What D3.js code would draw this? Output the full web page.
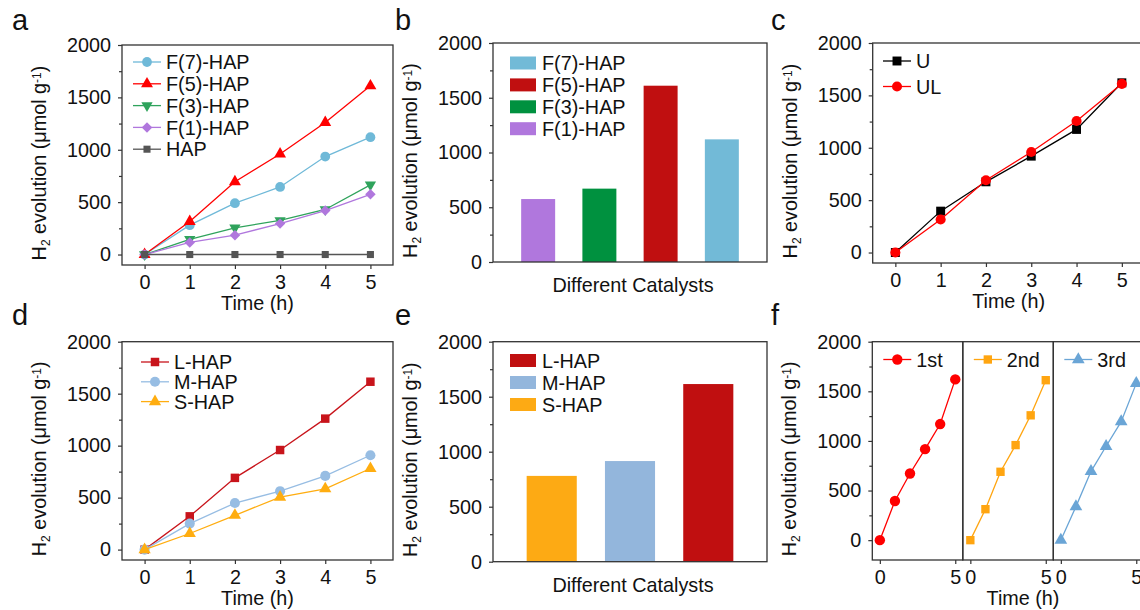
<!DOCTYPE html>
<html>
<head>
<meta charset="utf-8">
<script src="https://cdn.jsdelivr.net/npm/d3@7"></script>
<style>
  body { margin: 0; background: #fff; }
  text { font-family: "Liberation Sans", Arial, sans-serif; fill: #111; }
</style>
</head>
<body>
<svg id="fig" width="1140" height="610"></svg>
<script>
// ---- data ----
const hours = [0, 1, 2, 3, 4, 5];
const yMajorTicks = [0, 500, 1000, 1500, 2000];
const yMinorTicks = [250, 750, 1250, 1750];
const xTicksShort = [0, 5];

// panel a
const namesA = ["F(7)-HAP", "F(5)-HAP", "F(3)-HAP", "F(1)-HAP", "HAP"];
const f7Hap = [0, 280, 490, 645, 935, 1120];
const f5Hap = [0, 315, 695, 960, 1260, 1610];
const f3Hap = [0, 145, 255, 325, 430, 665];
const f1Hap = [0, 115, 185, 295, 420, 575];
const hapOnly = [0, 0, 0, 0, 0, 0];

// panel b
const catalystsB = ["F(1)-HAP", "F(3)-HAP", "F(5)-HAP", "F(7)-HAP"];
const totalsB = [575, 670, 1610, 1120];
const legendB = ["F(7)-HAP", "F(5)-HAP", "F(3)-HAP", "F(1)-HAP"];

// panel c
const namesC = ["U", "UL"];
const uRun = [0, 395, 675, 920, 1175, 1620];
const ulRun = [0, 315, 690, 960, 1255, 1610];

// panel d
const namesD = ["L-HAP", "M-HAP", "S-HAP"];
const lHap = [0, 320, 690, 958, 1260, 1615];
const mHap = [0, 250, 448, 562, 709, 908];
const sHap = [0, 155, 330, 505, 585, 780];

// panel e
const catalystsE = ["S-HAP", "M-HAP", "L-HAP"];
const totalsE = [780, 915, 1615];
const legendE = ["L-HAP", "M-HAP", "S-HAP"];

// panel f
const namesF = ["1st", "2nd", "3rd"];
const run1 = [0, 395, 672, 917, 1170, 1620];
const run2 = [0, 312, 689, 958, 1258, 1612];
const run3 = [0, 338, 694, 946, 1194, 1580];

const colors = {
  "F(7)-HAP": "#6fb9d8", "F(5)-HAP": "#ff0000", "F(3)-HAP": "#2fa35c",
  "F(1)-HAP": "#b077dd", "HAP": "#555555",
  "U": "#000000", "UL": "#ff0000",
  "L-HAP": "#c8141b", "M-HAP": "#97bde3", "S-HAP": "#ffad10",
  "1st": "#ff0000", "2nd": "#ffa510", "3rd": "#6aa5d6"
};
const barColors = {
  "F(7)-HAP": "#72bad7", "F(5)-HAP": "#c00f10", "F(3)-HAP": "#00913f",
  "F(1)-HAP": "#b077dd",
  "L-HAP": "#c00f10", "M-HAP": "#93b6dc", "S-HAP": "#fdaa14"
};

const svg = d3.select("#fig");
const FS = 19.8;
const frameColor = "#333";
const fmt = d3.format("d");

function panelLetter(ch, x, y) {
  svg.append("text").attr("x", x).attr("y", y)
    .style("font-size", "29px").text(ch);
}

function yTitle(x, cy) {
  const t = svg.append("text")
    .attr("transform", `translate(${x},${cy}) rotate(-90)`)
    .attr("text-anchor", "middle")
    .style("font-size", FS + "px");
  t.append("tspan").text("H");
  t.append("tspan").attr("baseline-shift", "-30%").style("font-size", "12px").text("2");
  t.append("tspan").text(" evolution (μmol g");
  t.append("tspan").attr("baseline-shift", "45%").style("font-size", "12px").text("-1");
  t.append("tspan").text(")");
}

function yAxes(x, y) {
  const major = svg.append("g").attr("transform", `translate(${x.range()[0]},0)`)
    .call(d3.axisLeft(y).tickValues(yMajorTicks).tickFormat(fmt).tickSize(4).tickPadding(7).tickSizeOuter(0));
  const minor = svg.append("g").attr("transform", `translate(${x.range()[0]},0)`)
    .call(d3.axisLeft(y).tickValues(yMinorTicks).tickSize(3).tickFormat("").tickSizeOuter(0));
  [major, minor].forEach(g => {
    g.select(".domain").remove();
    g.selectAll("line").attr("stroke", frameColor).attr("stroke-width", 1.2);
    g.selectAll("text").style("font-size", FS + "px").attr("fill", "#111");
  });
}

function frame(x0, x1, yTop, yBot) {
  svg.append("rect").attr("x", x0).attr("y", yTop)
    .attr("width", x1 - x0).attr("height", yBot - yTop)
    .attr("fill", "none").attr("stroke", frameColor).attr("stroke-width", 1.3);
}

function symbolFor(kind, size) {
  const t = { circle: d3.symbolCircle, triangle: d3.symbolTriangle, square: d3.symbolSquare,
              diamond: d3.symbolDiamond2, tdown: d3.symbolTriangle }[kind];
  return d3.symbol().type(t).size(size)();
}

function drawSeries(x, y, s) {
  const line = d3.line().x((d, i) => x(hours[i])).y(d => y(d));
  svg.append("path").datum(s.values).attr("d", line)
    .attr("fill", "none").attr("stroke", colors[s.name]).attr("stroke-width", 1.3);
  svg.append("g").selectAll("path").data(s.values).join("path")
    .attr("d", symbolFor(s.symbol, s.size))
    .attr("transform", (d, i) => `translate(${x(hours[i])},${y(d)})${s.symbol === "tdown" ? " rotate(180)" : ""}`)
    .attr("fill", colors[s.name]);
}

function lineLegend(series, lx, ly, dy) {
  series.forEach((s, i) => {
    const yy = ly + i * dy;
    svg.append("line").attr("x1", lx).attr("x2", lx + 28).attr("y1", yy).attr("y2", yy)
      .attr("stroke", colors[s.name]).attr("stroke-width", 1.3);
    svg.append("path").attr("d", symbolFor(s.symbol, s.size))
      .attr("transform", `translate(${lx + 14},${yy})${s.symbol === "tdown" ? " rotate(180)" : ""}`)
      .attr("fill", colors[s.name]);
    svg.append("text").attr("x", lx + 33).attr("y", yy).attr("dy", "0.36em")
      .style("font-size", FS + "px").text(s.name);
  });
}

function xAxisBottom(x, yBot, ticks) {
  const g = svg.append("g").attr("transform", `translate(0,${yBot})`)
    .call(d3.axisBottom(x).tickValues(ticks).tickFormat(fmt).tickSize(4).tickPadding(6).tickSizeOuter(0));
  g.select(".domain").remove();
  g.selectAll("line").attr("stroke", frameColor).attr("stroke-width", 1.2);
  g.selectAll("text").style("font-size", FS + "px").attr("fill", "#111");
}

function linePanel(cfg) {
  const x = d3.scaleLinear().domain([-0.5, 5.5]).range([cfg.x0, cfg.x1]);
  const y = d3.scaleLinear().domain(cfg.yDomain).range([cfg.yBot, cfg.yTop]);
  cfg.series.forEach(s => drawSeries(x, y, s));
  frame(cfg.x0, cfg.x1, cfg.yTop, cfg.yBot);
  yAxes(x, y);
  xAxisBottom(x, cfg.yBot, hours);
  lineLegend(cfg.series, cfg.lx, cfg.ly, cfg.ldy);
  svg.append("text").attr("x", (cfg.x0 + cfg.x1) / 2).attr("y", cfg.yBot + 45)
    .attr("text-anchor", "middle").style("font-size", FS + "px").text("Time (h)");
  yTitle(cfg.x0 - 76, (cfg.yTop + cfg.yBot) / 2 + 8);
}

function barPanel(cfg) {
  const x = d3.scaleBand().domain(cfg.cats).range([cfg.x0, cfg.x1])
    .paddingInner(cfg.pi).paddingOuter(cfg.po);
  const y = d3.scaleLinear().domain([0, 2000]).range([cfg.yBot, cfg.yTop]);
  svg.append("g").selectAll("rect").data(cfg.values).join("rect")
    .attr("x", (d, i) => x(cfg.cats[i])).attr("width", x.bandwidth())
    .attr("y", d => y(d)).attr("height", d => y(0) - y(d))
    .attr("fill", (d, i) => barColors[cfg.cats[i]]);
  frame(cfg.x0, cfg.x1, cfg.yTop, cfg.yBot);
  yAxes(x.copy().range([cfg.x0, cfg.x1]), y);
  cfg.legend.forEach((name, i) => {
    const yy = cfg.ly + i * cfg.ldy;
    svg.append("rect").attr("x", cfg.x0 + 17).attr("y", yy - 6.5).attr("width", 26).attr("height", 13)
      .attr("fill", barColors[name]);
    svg.append("text").attr("x", cfg.x0 + 49).attr("y", yy).attr("dy", "0.36em")
      .style("font-size", FS + "px").text(name);
  });
  svg.append("text").attr("x", (cfg.x0 + cfg.x1) / 2 + 3).attr("y", cfg.yBot + 30)
    .attr("text-anchor", "middle").style("font-size", FS + "px").text("Different Catalysts");
  yTitle(cfg.x0 - 76, (cfg.yTop + cfg.yBot) / 2 + 8);
}

// ---- panel a ----
linePanel({
  x0: 122, x1: 393, yTop: 45, yBot: 265, yDomain: [-100, 2000],
  lx: 133, ly: 62, ldy: 21.8,
  series: [
    { name: namesA[0], values: f7Hap, symbol: "circle", size: 75 },
    { name: namesA[1], values: f5Hap, symbol: "triangle", size: 62 },
    { name: namesA[2], values: f3Hap, symbol: "tdown", size: 55 },
    { name: namesA[3], values: f1Hap, symbol: "diamond", size: 70 },
    { name: namesA[4], values: hapOnly, symbol: "square", size: 50 }
  ]
});
panelLetter("a", 12, 30);

// ---- panel b ----
barPanel({
  x0: 493, x1: 767, yTop: 43, yBot: 262, cats: catalystsB, values: totalsB,
  pi: 0.445, po: 0.46, legend: legendB, ly: 63, ldy: 21.9
});
panelLetter("b", 395, 30);

// ---- panel c ----
linePanel({
  x0: 872.7, x1: 1144.5, yTop: 43, yBot: 263, yDomain: [-100, 2000],
  lx: 883, ly: 61, ldy: 25.5,
  series: [
    { name: namesC[0], values: uRun, symbol: "square", size: 80 },
    { name: namesC[1], values: ulRun, symbol: "circle", size: 80 }
  ]
});
panelLetter("c", 771, 30);

// ---- panel d ----
linePanel({
  x0: 122, x1: 393, yTop: 341.7, yBot: 560, yDomain: [-100, 2000],
  lx: 141, ly: 362, ldy: 19.8,
  series: [
    { name: namesD[0], values: lHap, symbol: "square", size: 72 },
    { name: namesD[1], values: mHap, symbol: "circle", size: 80 },
    { name: namesD[2], values: sHap, symbol: "triangle", size: 65 }
  ]
});
panelLetter("d", 12, 325);

// ---- panel e ----
barPanel({
  x0: 493, x1: 767, yTop: 341.7, yBot: 561.7, cats: catalystsE, values: totalsE,
  pi: 0.36, po: 0.43, legend: legendE, ly: 360.5, ldy: 22
});
panelLetter("e", 395, 325);

// ---- panel f ----
(function () {
  const x0 = 872.3, sub = 90.5, yTop = 341.7, yBot = 560;
  const y = d3.scaleLinear().domain([-200, 2000]).range([yBot, yTop]);
  const runs = [run1, run2, run3];
  const symbols = ["circle", "square", "triangle"];
  const sizes = [85, 70, 70];
  runs.forEach((vals, k) => {
    const x = d3.scaleLinear().domain([-0.5, 5.5]).range([x0 + k * sub, x0 + (k + 1) * sub]);
    drawSeries(x, y, { name: namesF[k], values: vals, symbol: symbols[k], size: sizes[k] });
    frame(x0 + k * sub, x0 + (k + 1) * sub, yTop, yBot);
    xAxisBottom(x, yBot, xTicksShort);
    lineLegend([{ name: namesF[k], symbol: symbols[k], size: sizes[k] }], x0 + k * sub + 11, 359.5, 0);
    if (k === 0) yAxes(x, y);
  });
  svg.append("text").attr("x", 1023).attr("y", yBot + 45)
    .attr("text-anchor", "middle").style("font-size", FS + "px").text("Time (h)");
  yTitle(x0 - 76, (yTop + yBot) / 2 + 8);
})();
panelLetter("f", 771, 325);
</script>
</body>
</html>
